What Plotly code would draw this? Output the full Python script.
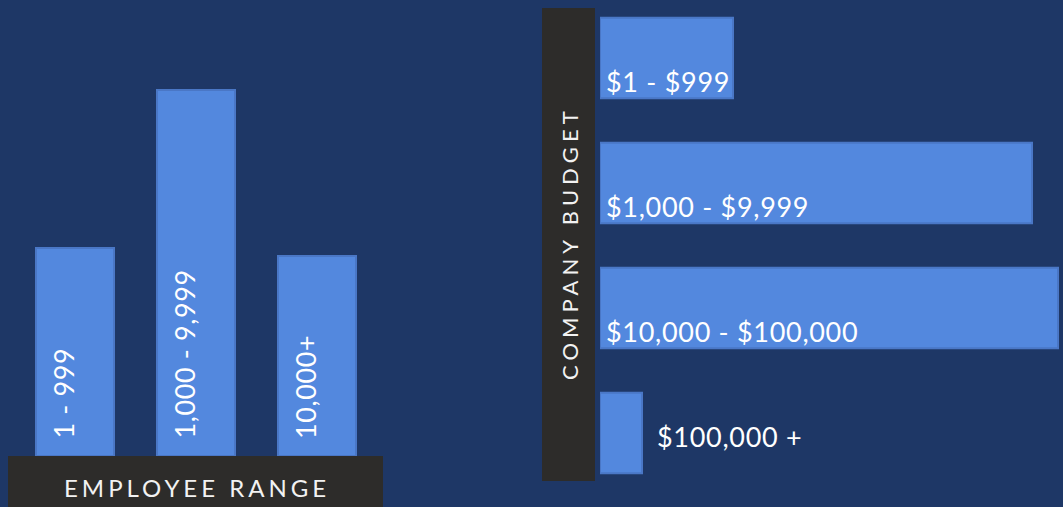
import plotly.graph_objects as go

BG = "#1e3766"
BAR = "#5388de"
BAR_LINE = "#4a77c6"
BOX = "#2d2c2a"
FONT = "Lato"
WEIGHT = 400

# Left chart: employee range
emp_categories = ["1 - 999", "1,000 - 9,999", "10,000+"]
emp_values = [208, 366, 200]

# Right chart: company budget
budget_categories = ["$1 - $999", "$1,000 - $9,999", "$10,000 - $100,000", "$100,000 +"]
budget_values = [133, 432, 458, 42]

W, H = 1063, 507


def spaced(t, px):
    return '<span style="letter-spacing:%spx">%s</span>' % (px, t)


fig = go.Figure()

fig.add_trace(go.Bar(
    x=emp_categories, y=emp_values, xaxis="x", yaxis="y",
    marker=dict(color=BAR, line=dict(color=BAR_LINE, width=2)),
    hoverinfo="skip", showlegend=False,
))

fig.add_trace(go.Bar(
    x=budget_values, y=budget_categories, orientation="h", xaxis="x2", yaxis="y2",
    marker=dict(color=BAR, line=dict(color=BAR_LINE, width=2)),
    hoverinfo="skip", showlegend=False,
))

annotations = []
for c in emp_categories:
    annotations.append(dict(
        x=c, y=0, xref="x", yref="y", text=spaced(c, 0.6), textangle=-90, showarrow=False,
        xanchor="center", yanchor="bottom", yshift=15, xshift=-12,
        font=dict(family=FONT, size=27, color="white", weight=WEIGHT),
    ))

for c, v in zip(budget_categories, budget_values):
    if v < 100:
        annotations.append(dict(
            x=v, y=c, xref="x2", yref="y2", text=spaced(c, 0.7), showarrow=False,
            xanchor="left", yanchor="middle", xshift=13, yshift=-3,
            font=dict(family=FONT, size=27, color="white", weight=WEIGHT),
        ))
    else:
        annotations.append(dict(
            x=0, y=c, xref="x2", yref="y2", text=spaced(c, 0.7), showarrow=False,
            xanchor="left", yanchor="middle", xshift=4, yshift=-23,
            font=dict(family=FONT, size=27, color="white", weight=WEIGHT),
        ))

annotations.append(dict(
    x=196.5 / W, y=(507 - 487) / H, xref="paper", yref="paper",
    text=spaced("EMPLOYEE RANGE", 4), showarrow=False,
    xanchor="center", yanchor="middle",
    font=dict(family=FONT, size=24, color="#f2f2f2", weight=WEIGHT),
))
annotations.append(dict(
    x=569 / W, y=(507 - 243) / H, xref="paper", yref="paper",
    text=spaced("COMPANY BUDGET", 5), textangle=-90, showarrow=False,
    xanchor="center", yanchor="middle",
    font=dict(family=FONT, size=22, color="#f2f2f2", weight=WEIGHT),
))

shapes = [
    dict(type="rect", xref="paper", yref="paper", x0=8 / W, x1=383 / W, y0=0, y1=51 / H,
         fillcolor=BOX, line=dict(width=0), layer="below"),
    dict(type="rect", xref="paper", yref="paper", x0=542 / W, x1=595 / W,
         y0=(507 - 481) / H, y1=(507 - 8) / H, fillcolor=BOX, line=dict(width=0), layer="below"),
]

fig.update_layout(
    width=W, height=H,
    margin=dict(l=0, r=0, t=0, b=0),
    paper_bgcolor=BG, plot_bgcolor="rgba(0,0,0,0)",
    bargap=0.355,
    xaxis=dict(domain=[14.5 / W, 377.5 / W], range=[-0.5, 2.5], visible=False, fixedrange=True),
    yaxis=dict(domain=[51 / H, 1], range=[0, 456], visible=False, fixedrange=True),
    xaxis2=dict(domain=[600 / W, 1], range=[0, 463], visible=False, anchor="y2", fixedrange=True),
    yaxis2=dict(domain=[0, 1], range=[3.592, -0.464], visible=False, anchor="x2", fixedrange=True),
    annotations=annotations,
    shapes=shapes,
)

fig.write_html(
    "out.html",
    config={"displayModeBar": False},
    post_script="document.body.style.margin='0';document.body.style.background='%s';" % BG,
)
